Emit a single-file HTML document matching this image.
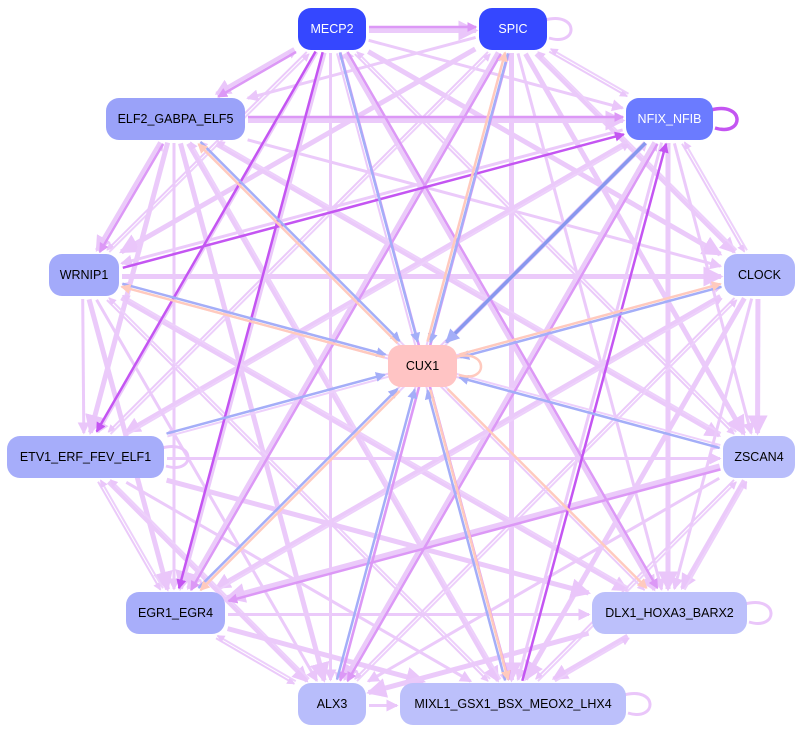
<!DOCTYPE html>
<html><head><meta charset="utf-8"><style>
html,body{margin:0;padding:0;background:#fff;width:803px;height:733px;overflow:hidden}
svg{display:block}
text{font-family:"Liberation Sans",sans-serif;font-size:12.5px;text-anchor:middle;dominant-baseline:central}
</style></head><body>
<svg id="g" width="803" height="733" xmlns="http://www.w3.org/2000/svg">
<defs>
<marker id="al" markerWidth="4" markerHeight="4" refX="3.5" refY="2" orient="auto" markerUnits="strokeWidth"><path d="M0,0L4,2L0,4z" fill="#eac6fa"/></marker>
<marker id="ap" markerWidth="4" markerHeight="4" refX="3.5" refY="2" orient="auto" markerUnits="strokeWidth"><path d="M0,0L4,2L0,4z" fill="#c455f2"/></marker>
<marker id="am" markerWidth="4" markerHeight="4" refX="3.5" refY="2" orient="auto" markerUnits="strokeWidth"><path d="M0,0L4,2L0,4z" fill="#dc98f6"/></marker>
<marker id="ab" markerWidth="4" markerHeight="4" refX="3.5" refY="2" orient="auto" markerUnits="strokeWidth"><path d="M0,0L4,2L0,4z" fill="#a4aef8"/></marker>
<marker id="ao" markerWidth="4" markerHeight="4" refX="3.5" refY="2" orient="auto" markerUnits="strokeWidth"><path d="M0,0L4,2L0,4z" fill="#ffcabe"/></marker>
</defs>
<g id="edges" fill="none"></g>
<g id="nodes"></g>
</svg>
<script>
var N={
MECP2:[298,8,68,42,"#3547ff","#fff"],
SPIC:[479,8,68,42,"#3547ff","#fff"],
ELF2_GABPA_ELF5:[106,98,139,42,"#9aa2f9","#000"],
NFIX_NFIB:[626,98,87,42,"#6b7bff","#fff"],
WRNIP1:[49,254,70,42,"#a3aafa","#000"],
CLOCK:[724,254,71,42,"#b0b6fb","#000"],
CUX1:[388,345,69,42,"#ffc4c4","#000"],
ETV1_ERF_FEV_ELF1:[7,436,157,42,"#a6adfa","#000"],
ZSCAN4:[723,436,72,42,"#b8bdfb","#000"],
EGR1_EGR4:[126,592,99,42,"#a8aefa","#000"],
DLX1_HOXA3_BARX2:[592,592,155,42,"#bcc0fb","#000"],
ALX3:[298,683,68,42,"#b8bdfb","#000"],
MIXL1_GSX1_BSX_MEOX2_LHX4:[400,683,226,42,"#bcc0fb","#000"]};
var ns="http://www.w3.org/2000/svg",E=document.getElementById("edges"),G=document.getElementById("nodes");
function c(k){var n=N[k];return[n[0]+n[2]/2,n[1]+n[3]/2];}
function clip(k,x,y,dx,dy){var n=N[k];var hw=n[2]/2+3,hh=n[3]/2+3;var t=Math.min(Math.abs(dx)>0.01?hw/Math.abs(dx):1e9,Math.abs(dy)>0.01?hh/Math.abs(dy):1e9);return[x+dx*t,y+dy*t];}
function line(a,b,col,w,mk,off){var p=c(a),q=c(b);var dx=q[0]-p[0],dy=q[1]-p[1],L=Math.hypot(dx,dy);var ux=dx/L,uy=dy/L;off=off||0;var ox=-uy*off,oy=ux*off;
var s=clip(a,p[0],p[1],ux,uy),e=clip(b,q[0],q[1],-ux,-uy);
var l=document.createElementNS(ns,"line");l.setAttribute("x1",s[0]+ox);l.setAttribute("y1",s[1]+oy);l.setAttribute("x2",e[0]+ox);l.setAttribute("y2",e[1]+oy);
l.setAttribute("stroke",col);l.setAttribute("stroke-width",w);if(mk)l.setAttribute("marker-end","url(#"+mk+")");E.appendChild(l);}
var K=Object.keys(N);
for(var i=0;i<K.length;i++)for(var j=i+1;j<K.length;j++){if(K[i]=="CUX1"||K[j]=="CUX1")continue;
var w=2+((i*7+j*3)%4);line(K[i],K[j],"#ebcafa",w,"al",1.5);if((i+j)%2==0)line(K[j],K[i],"#edd0fb",2,"al",1.5);}
[["MECP2","SPIC"],["MECP2","ELF2_GABPA_ELF5"],["MECP2","DLX1_HOXA3_BARX2"],["SPIC","EGR1_EGR4"],["ELF2_GABPA_ELF5","NFIX_NFIB"],["SPIC","ALX3"],["ZSCAN4","EGR1_EGR4"],["NFIX_NFIB","ALX3"],["ELF2_GABPA_ELF5","WRNIP1"],["MECP2","MIXL1_GSX1_BSX_MEOX2_LHX4"]].forEach(function(e){line(e[0],e[1],"#dc98f6",2.5,"am",-2);});
[["MECP2","ETV1_ERF_FEV_ELF1"],["MECP2","EGR1_EGR4"],["WRNIP1","NFIX_NFIB"],["MIXL1_GSX1_BSX_MEOX2_LHX4","NFIX_NFIB"]].forEach(function(e){line(e[0],e[1],"#c455f2",2.5,"ap",3);});
[["MECP2","b"],["SPIC","bo"],["NFIX_NFIB","B"],["CLOCK","bo"],["ZSCAN4","b"],["ETV1_ERF_FEV_ELF1","b"],["WRNIP1","bo"],["ELF2_GABPA_ELF5","bo"],["EGR1_EGR4","bo"],["ALX3","b"],["MIXL1_GSX1_BSX_MEOX2_LHX4","bo"],["DLX1_HOXA3_BARX2","o"]].forEach(function(e){
if(e[1].indexOf("b")>=0)line(e[0],"CUX1","#a4aef8",2.5,"ab",-1.5);
if(e[1]=="B")line(e[0],"CUX1","#8898ee",3.5,"ab",0);
if(e[1].indexOf("o")>=0)line("CUX1",e[0],"#ffcabe",2.5,"ao",-1.5);});
function loop(k,col,w){var n=N[k];var x=n[0]+n[2],y=n[1]+n[3]/2;var p=document.createElementNS(ns,"path");
p.setAttribute("d","M"+(x-2)+","+(y-9)+" C"+(x+32)+","+(y-18)+" "+(x+32)+","+(y+18)+" "+(x+2)+","+(y+9));p.setAttribute("stroke",col);p.setAttribute("stroke-width",w);p.setAttribute("fill","none");E.appendChild(p);}
loop("SPIC","#eac6fa",3);loop("NFIX_NFIB","#c455f2",3.5);loop("CUX1","#ffcabe",2.5);loop("ETV1_ERF_FEV_ELF1","#eac6fa",3);
loop("DLX1_HOXA3_BARX2","#eac6fa",3);loop("MIXL1_GSX1_BSX_MEOX2_LHX4","#eac6fa",3);
K.forEach(function(k){var n=N[k];var r=document.createElementNS(ns,"rect");r.setAttribute("x",n[0]);r.setAttribute("y",n[1]);r.setAttribute("width",n[2]);r.setAttribute("height",n[3]);r.setAttribute("rx",13);r.setAttribute("fill",n[4]);G.appendChild(r);
var t=document.createElementNS(ns,"text");t.setAttribute("x",n[0]+n[2]/2);t.setAttribute("y",n[1]+n[3]/2);t.setAttribute("fill",n[5]);t.textContent=k;G.appendChild(t);});
</script>
</body></html>
